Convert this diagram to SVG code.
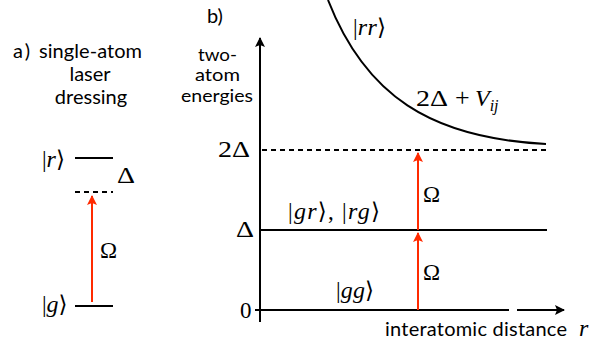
<svg xmlns="http://www.w3.org/2000/svg" width="606" height="347" viewBox="0 0 606 347">
<style>
.lbl{font-family:Lato,"Open Sans",sans-serif;font-size:20px;fill:#000}
.sm{font-size:17px}
.m{font-family:"Liberation Serif","DejaVu Serif",serif;font-size:23px;fill:#000}
.i{font-style:italic;font-size:24px}
.sub{font-style:italic;font-size:16px}
.ln{stroke:#000;stroke-width:2;fill:none}
.ds{stroke:#000;stroke-width:2;stroke-dasharray:5,4;fill:none}
.red{stroke:#ff2a00;stroke-width:2;fill:none}
</style>
<defs>
<marker id="ar" viewBox="0 0 10 10" refX="9" refY="5" markerWidth="5" markerHeight="5" orient="auto"><path d="M0,0 L10,5 L0,10 L2,5 Z" fill="#ff2a00"/></marker>
<marker id="ak" viewBox="0 0 10 10" refX="9" refY="5" markerWidth="5" markerHeight="5" orient="auto"><path d="M0,0 L10,5 L0,10 L2,5 Z" fill="#000"/></marker>
</defs>
<g id="panel-a-title">
<text class="lbl" x="13" y="58" textLength="17">a)</text>
<text class="lbl" x="39" y="58" textLength="103">single-atom</text>
<text class="lbl" x="90" y="81" text-anchor="middle">laser</text>
<text class="lbl" x="91" y="104" text-anchor="middle">dressing</text>
</g>
<g id="level-r"><line class="ln" x1="75" y1="158" x2="113" y2="158"/><text class="m" x="42" y="167">|<tspan class="i">r</tspan>⟩</text></g>
<g id="level-g"><line class="ln" x1="75" y1="306" x2="113" y2="306"/><text class="m" x="42" y="312">|<tspan class="i">g</tspan>⟩</text></g>
<g id="level-virtual"><line class="ds" x1="75" y1="192" x2="113" y2="192"/><text class="m" x="117" y="183" textLength="18" lengthAdjust="spacingAndGlyphs">Δ</text></g>
<g id="panel-b-title">
<text class="lbl" x="207" y="23">b)</text>
<text class="lbl sm" x="198" y="60.5" textLength="39" lengthAdjust="spacingAndGlyphs">two-</text>
<text class="lbl sm" x="195" y="81" textLength="45" lengthAdjust="spacingAndGlyphs">atom</text>
<text class="lbl sm" x="181" y="101.5" textLength="72" lengthAdjust="spacingAndGlyphs">energies</text>
</g>
<g id="axes">
<line class="ln" x1="260" y1="322" x2="260" y2="38" marker-end="url(#ak)"/>
<line class="ln" x1="255" y1="310" x2="509" y2="310"/>
<line class="ln" x1="517" y1="310" x2="564" y2="310" marker-end="url(#ak)"/>
<text class="m" x="240" y="318">0</text>
<text class="m" x="236" y="237" textLength="18" lengthAdjust="spacingAndGlyphs">Δ</text>
<text class="m" x="218" y="157" textLength="32" lengthAdjust="spacingAndGlyphs">2Δ</text>
<text class="lbl" x="385" y="336"><tspan textLength="182">interatomic distance</tspan> <tspan class="m i" x="579">r</tspan></text>
</g>
<g id="level-gg"><text class="m" x="336" y="298" textLength="38">|<tspan class="i">gg</tspan>⟩</text></g>
<g id="level-gr"><line class="ln" x1="260" y1="230" x2="547" y2="230"/><text class="m" x="288" y="219" textLength="92">|<tspan class="i">gr</tspan>⟩, |<tspan class="i">rg</tspan>⟩</text></g>
<g id="level-2d"><line class="ds" x1="262" y1="150" x2="546" y2="150"/></g>
<g id="level-rr"><path class="ln" d="M328,0 C365,95 430,138 546,144"/><text class="m" x="353" y="35" textLength="33">|<tspan class="i">rr</tspan>⟩</text><text class="m" y="106"><tspan x="416" textLength="32" lengthAdjust="spacingAndGlyphs">2Δ</tspan><tspan x="455" font-size="26">+</tspan><tspan class="i" x="475">V</tspan><tspan class="sub" dy="5">ij</tspan></text></g>
<g id="connectors">
<line class="red" x1="92" y1="302" x2="92" y2="196" marker-end="url(#ar)"/>
<text class="m" x="100" y="258">Ω</text>
<line class="red" x1="418" y1="310" x2="418" y2="233" marker-end="url(#ar)"/>
<text class="m" x="423" y="280">Ω</text>
<line class="red" x1="418" y1="230" x2="418" y2="153" marker-end="url(#ar)"/>
<text class="m" x="423" y="202">Ω</text>
</g>
</svg>
